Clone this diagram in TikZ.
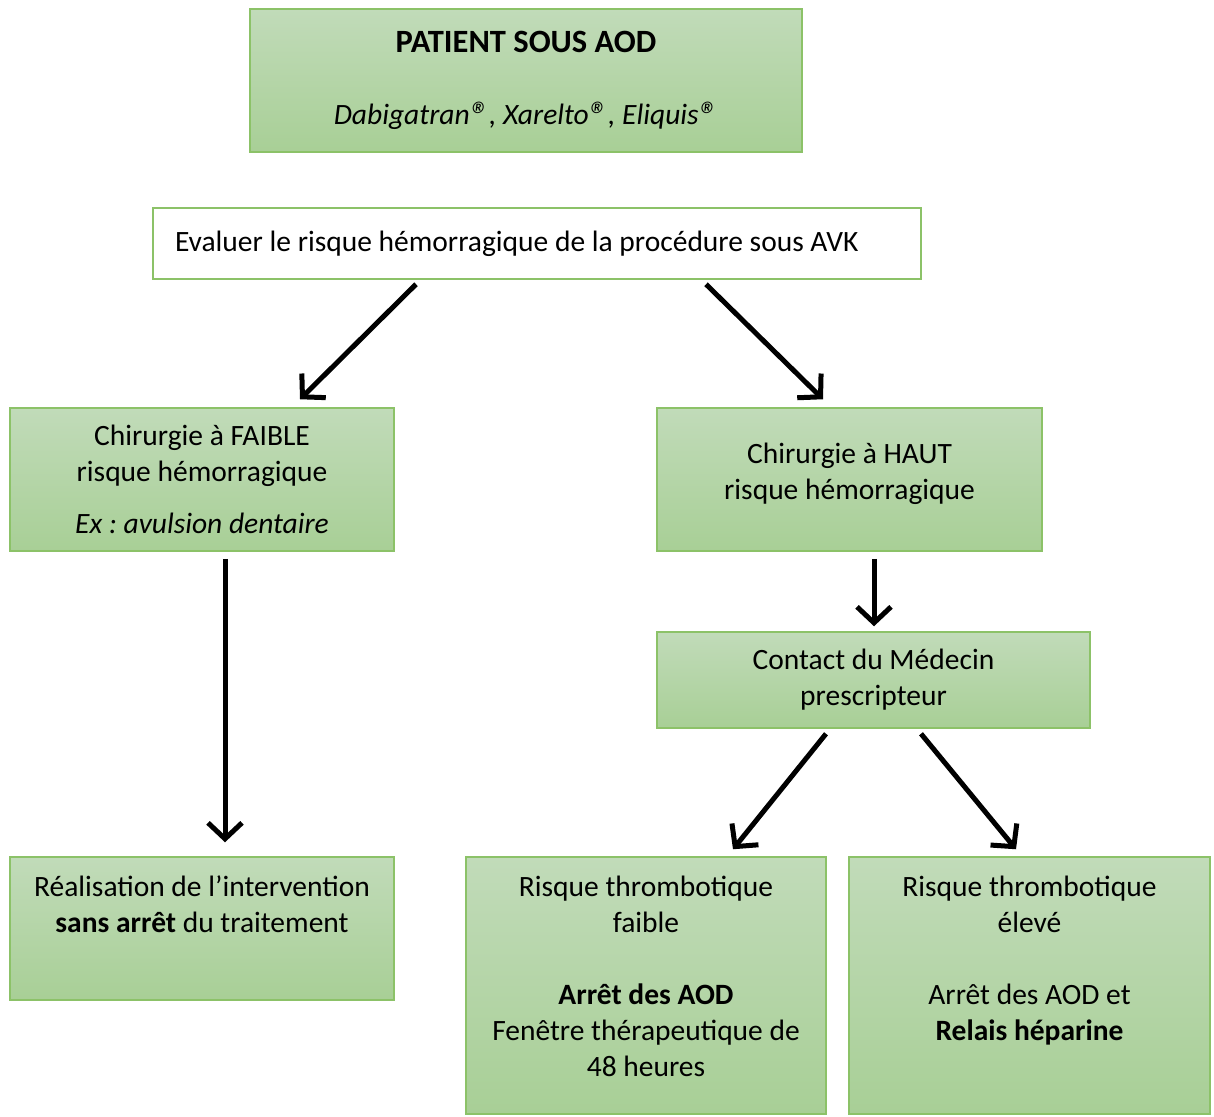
\documentclass[tikz,border=0pt]{standalone}
\usepackage{fontspec}
\setmainfont{Carlito}
\usepackage{tikz}
\usetikzlibrary{arrows.meta}
\frenchspacing

\definecolor{boxline}{RGB}{140,194,104}
\definecolor{boxtop}{RGB}{193,219,185}
\definecolor{boxbot}{RGB}{168,207,150}

\newcommand{\regmark}{\raisebox{-0.12em}{\scalebox{1.3}{®}}}

\tikzset{
	box/.style={draw=boxline, line width=1.5pt, top color=boxtop, bottom color=boxbot,
		align=center, inner sep=0pt, font=\fontsize{29.5}{36}\selectfont},
	arr/.style={line width=5pt, -{Straight Barb[length=16pt,width=34pt,line width=5pt]}}
}

\begin{document}
\begin{tikzpicture}[x=1pt,y=-1pt]
	
	\useasboundingbox (0,0) rectangle (1214,1116);
	
	\node[box, minimum width=552pt, minimum height=143pt] (patient) at (526,80.5)
		{{\fontsize{32.5}{36}\selectfont\textbf{PATIENT SOUS AOD}}\\[36pt]\textit{Dabigatran\regmark, Xarelto\regmark, Eliquis\regmark}};
	\node[box, top color=white, bottom color=white, line width=2.5pt, text width=724pt,
		inner xsep=22pt, minimum height=71pt, align=flush left] (eval) at (537,243.5)
		{Evaluer le risque hémorragique de la procédure sous AVK};
	\node[box, minimum width=384pt, minimum height=143pt] (faible) at (202,479.5)
		{Chirurgie à FAIBLE\\risque hémorragique\\[16pt]\textit{Ex : avulsion dentaire}};
	\node[box, minimum width=385pt, minimum height=143pt] (haut) at (849.5,479.5)
		{Chirurgie à HAUT\\risque hémorragique\\[-19pt]\mbox{}};
	\node[box, minimum width=433pt, minimum height=96pt] (contact) at (873.5,680)
		{Contact du Médecin\\prescripteur};
	\node[box, minimum width=384pt, minimum height=143pt] (realis) at (202,928.5)
		{Réalisation de l’intervention\\\textbf{sans arrêt} du traitement\\[13pt]\mbox{}};
	\node[box, minimum width=360pt, minimum height=257pt] (tfaible) at (646,985.5)
		{Risque thrombotique\\faible\\[36pt]\textbf{Arrêt des AOD}\\Fenêtre thérapeutique de\\48 heures\\[-17pt]\mbox{}};
	\node[box, minimum width=361pt, minimum height=257pt] (televe) at (1029.5,985.5)
		{Risque thrombotique\\élevé\\[36pt]Arrêt des AOD et\\\textbf{Relais héparine}\\[18pt]\mbox{}};
	
	\draw[arr] ([shift={(-121,4)}]eval.south) -- ([shift={(98,-8)}]faible.north);
	\draw[arr] ([shift={(169,4)}]eval.south) -- ([shift={(-26.5,-8)}]haut.north);
	\draw[arr] ([shift={(23,7)}]faible.south) -- ([shift={(23,-14)}]realis.north);
	\draw[arr] ([shift={(24.5,7)}]haut.south) -- ([shift={(0.5,-5)}]contact.north);
	\draw[arr] ([shift={(-47.5,5)}]contact.south) -- ([shift={(87,-7)}]tfaible.north);
	\draw[arr] ([shift={(47.5,5)}]contact.south) -- ([shift={(-13.5,-7)}]televe.north);
	
\end{tikzpicture}
\end{document}
